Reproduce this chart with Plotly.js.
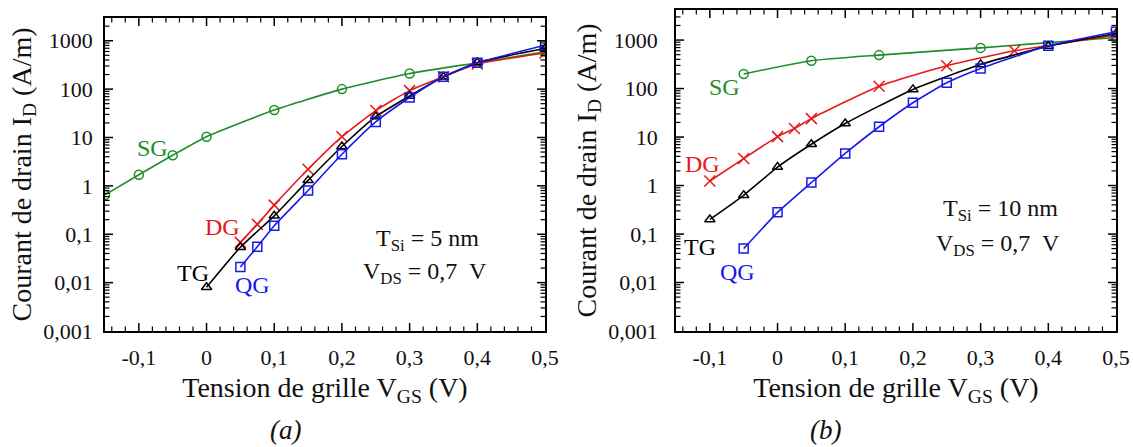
<!DOCTYPE html>
<html><head><meta charset="utf-8">
<script src="https://cdn.plot.ly/plotly-3.0.1.min.js"></script>
<style>html,body{margin:0;padding:0;background:#fff}#chart{width:1133px;height:447px}</style>
</head><body><div id="chart"></div>
<script>
// ---- data: panel (a) T_Si = 5 nm ----
const sgAx = [-0.15, -0.1, -0.05, 0, 0.1, 0.2, 0.3, 0.4, 0.5];
const sgAy = [0.65, 1.7, 4.3, 10.4, 37, 100, 210, 350, 590];
const dgAx = [0.05, 0.075, 0.1, 0.15, 0.2, 0.25, 0.3, 0.35, 0.4, 0.5];
const dgAy = [0.068, 0.16, 0.40, 2.2, 10.4, 36, 93, 180, 330, 560];
const tgAx = [0, 0.05, 0.1, 0.15, 0.2, 0.25, 0.3, 0.35, 0.4, 0.5];
const tgAy = [0.008, 0.054, 0.24, 1.3, 6.5, 27, 72, 180, 355, 690];
const qgAx = [0.05, 0.075, 0.1, 0.15, 0.2, 0.25, 0.3, 0.35, 0.4, 0.5];
const qgAy = [0.021, 0.055, 0.15, 0.8, 4.5, 21, 67, 180, 350, 810];
// ---- data: panel (b) T_Si = 10 nm ----
const sgBx = [-0.05, 0.05, 0.15, 0.3, 0.5];
const sgBy = [200, 375, 490, 690, 1130];
const dgBx = [-0.1, -0.05, 0, 0.025, 0.05, 0.15, 0.25, 0.35, 0.5];
const dgBy = [1.24, 3.6, 10.2, 15, 24, 112, 295, 600, 1260];
const tgBx = [-0.1, -0.05, 0, 0.05, 0.1, 0.2, 0.3, 0.4, 0.5];
const tgBy = [0.2, 0.63, 2.4, 7.1, 19, 96, 315, 750, 1370];
const qgBx = [-0.05, 0, 0.05, 0.1, 0.15, 0.2, 0.25, 0.3, 0.4, 0.5];
const qgBy = [0.05, 0.28, 1.15, 4.6, 16.3, 51, 132, 260, 760, 1490];
// ---- tick labels ----
const xTickVals = [-0.1, 0, 0.1, 0.2, 0.3, 0.4, 0.5];
const xTickText = ['-0,1', '0', '0,1', '0,2', '0,3', '0,4', '0,5'];
const yTickVals = [0.001, 0.01, 0.1, 1, 10, 100, 1000];
const yTickText = ['0,001', '0,01', '0,1', '1', '10', '100', '1000'];
const seriesNames = ['SG', 'DG', 'TG', 'QG'];

const W = 1133, H = 447;
const X_RANGE = [-0.15, 0.5];
const FONT = '"Liberation Serif", "Times New Roman", serif';
const colors = {SG: 'rgb(30,140,40)', DG: 'rgb(230,25,25)', TG: 'rgb(0,0,0)', QG: 'rgb(25,25,235)'};
const symbols = {SG: 'circle-open', DG: 'x-thin-open', TG: 'triangle-up-open', QG: 'square-open'};

function tr(name, x, y, xa, ya) {
  return {
    x: x, y: y, name: name, xaxis: xa, yaxis: ya, type: 'scatter', mode: 'lines+markers',
    line: {color: colors[name], width: 1.6, shape: 'spline', smoothing: 0.5},
    marker: {symbol: symbols[name], size: name === 'DG' ? 11 : 9, color: colors[name],
             line: {color: colors[name], width: 1.5}},
    showlegend: false
  };
}
const data = [
  tr('SG', sgAx, sgAy, 'x', 'y'), tr('DG', dgAx, dgAy, 'x', 'y'),
  tr('TG', tgAx, tgAy, 'x', 'y'), tr('QG', qgAx, qgAy, 'x', 'y'),
  tr('SG', sgBx, sgBy, 'x2', 'y2'), tr('DG', dgBx, dgBy, 'x2', 'y2'),
  tr('TG', tgBx, tgBy, 'x2', 'y2'), tr('QG', qgBx, qgBy, 'x2', 'y2')
];

function xax(domain, anchor) {
  return {
    domain: domain, anchor: anchor, range: X_RANGE,
    tickmode: 'array', tickvals: xTickVals, ticktext: xTickText, ticks: '',
    showline: true, linecolor: 'black', linewidth: 1.5, mirror: true, showgrid: false, zeroline: false,
    tickfont: {family: FONT, size: 22, color: '#111'}, automargin: false, ticklabelstandoff: 6,
    title: {text: 'Tension de grille V<sub>GS</sub> (V)', font: {family: FONT, size: 28, color: '#111'}, standoff: 8}
  };
}
function yax(domain, anchor, top, standoff, lblStand) {
  return {
    domain: domain, anchor: anchor, type: 'log', range: [-3, top],
    tickmode: 'array', tickvals: yTickVals, ticktext: yTickText, ticks: '',
    showline: true, linecolor: 'black', linewidth: 1.5, mirror: true, showgrid: false, zeroline: false,
    tickfont: {family: FONT, size: 22, color: '#111'}, automargin: false, ticklabelstandoff: lblStand,
    title: {text: 'Courant de drain I<sub>D</sub> (A/m)', font: {family: FONT, size: 28, color: '#111'}, standoff: standoff}
  };
}

// inside tick marks on all four sides, placed in axis-domain units (decoration only)
function frameTicks(s, yTop, wPx, hPx) {
  const out = [];
  const xr = 'x' + s + ' domain', yr = 'y' + s + ' domain';
  const seg = (x0, x1, y0, y1, w) => out.push({type: 'line', xref: xr, yref: yr, x0: x0, x1: x1, y0: y0, y1: y1,
                                               line: {color: 'black', width: w}, layer: 'above'});
  const fx = v => (v - X_RANGE[0]) / (X_RANGE[1] - X_RANGE[0]);
  const fy = v => (Math.log10(v) + 3) / (yTop + 3);
  // x: major every 0.1, minor every 0.02
  for (let i = -7; i <= 25; i++) {
    const v = i * 0.02, f = fx(v);
    if (f < 0.003 || f > 0.997) continue;
    const major = (i % 5 === 0), L = (major ? 8 : 4.5) / hPx, w = major ? 1.5 : 1.2;
    seg(f, f, 0, L, w); seg(f, f, 1, 1 - L, w);
  }
  // y: major each decade, minor at 2..9
  for (let e = -3; e <= 3; e++) {
    for (let m = 1; m <= 9; m++) {
      const f = fy(m * Math.pow(10, e));
      if (f < 0.003 || f > 0.997) continue;
      const major = (m === 1), L = (major ? 8 : 4.5) / wPx, w = major ? 1.5 : 1.2;
      seg(0, L, f, f, w); seg(1, 1 - L, f, f, w);
    }
  }
  return out;
}
const shapes = frameTicks('', 3.47, 440, 313).concat(frameTicks('2', 3.62, 440, 321));

const px = v => v / W, py = v => 1 - v / H;
function lab(text, x, y, color, size, italic) {
  return {text: text, x: px(x), y: py(y), xref: 'paper', yref: 'paper', showarrow: false,
          xanchor: 'center', yanchor: 'middle',
          font: {family: FONT, size: size || 24, color: color || '#111', style: italic ? 'italic' : 'normal'}};
}
const annotations = [
  lab(seriesNames[0], 152, 148, colors.SG), lab(seriesNames[1], 222, 227, colors.DG),
  lab(seriesNames[2], 193, 273, colors.TG), lab(seriesNames[3], 252, 285, colors.QG),
  lab('T<sub>Si</sub> = 5 nm', 427, 240), lab('V<sub>DS</sub> = 0,7  V', 425, 273),
  lab(seriesNames[0], 725, 87, colors.SG), lab(seriesNames[1], 702, 164, colors.DG),
  lab(seriesNames[2], 700, 247, colors.TG), lab(seriesNames[3], 737, 272, colors.QG),
  lab('T<sub>Si</sub> = 10 nm', 1000, 210), lab('V<sub>DS</sub> = 0,7  V', 998, 245),
  lab('(a)', 285, 430, '#111', 27, true), lab('(b)', 825, 430, '#111', 27, true)
];

const layout = {
  width: W, height: H, margin: {l: 0, r: 0, t: 0, b: 0},
  paper_bgcolor: '#fff', plot_bgcolor: '#fff', showlegend: false,
  font: {family: FONT},
  xaxis: xax([105 / W, 545 / W], 'y'),
  yaxis: yax([1 - 331 / H, 1 - 18 / H], 'x', 3.47, 4, 6),
  xaxis2: xax([676 / W, 1116 / W], 'y2'),
  yaxis2: yax([1 - 331 / H, 1 - 10 / H], 'x2', 3.62, 4, 12),
  shapes: shapes,
  annotations: annotations
};
Plotly.newPlot('chart', data, layout, {displayModeBar: false});
</script></body></html>
